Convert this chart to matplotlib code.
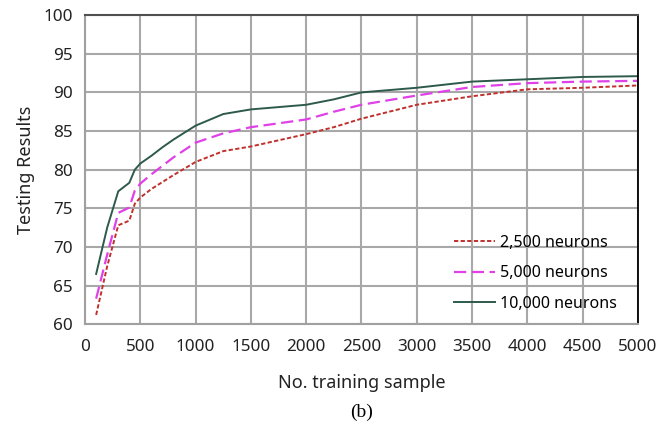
import numpy as np
import matplotlib
matplotlib.use("Agg")
import matplotlib.pyplot as plt

# training samples and testing results
samples = [100, 200, 300, 400, 450, 500, 600, 700, 800, 1000, 1250, 1500,
           2000, 2250, 2500, 3000, 3500, 4000, 4500, 5000]
res_2500 = [61.2, 67.5, 72.8, 73.4, 75.6, 76.4, 77.5, 78.4, 79.3, 81.0, 82.4, 83.0,
            84.6, 85.5, 86.6, 88.4, 89.5, 90.4, 90.6, 90.9]
res_5000 = [63.3, 69.0, 74.4, 75.1, 77.3, 78.2, 79.4, 80.5, 81.6, 83.5, 84.7, 85.5,
            86.5, 87.5, 88.4, 89.6, 90.7, 91.2, 91.4, 91.5]
res_10000 = [66.5, 72.5, 77.2, 78.3, 80.0, 80.8, 81.8, 82.9, 83.9, 85.7, 87.2, 87.8,
             88.4, 89.1, 90.0, 90.6, 91.4, 91.7, 92.0, 92.1]
labels = ["2,500 neurons", "5,000 neurons", "10,000 neurons"]
xticks = list(range(0, 5001, 500))
yticks = list(range(60, 101, 5))

plt.rcParams['font.family'] = ['Noto Sans', 'DejaVu Sans']

fig = plt.figure(figsize=(6.7, 4.21), dpi=100)
ax = fig.add_axes([0.127, 0.230, 0.825, 0.734])

ax.plot(samples, res_2500, color='#C0302C', linestyle=(0, (2.2, 1.2)), lw=1.4, label=labels[0])
ax.plot(samples, res_5000, color='#E040E8', linestyle=(0, (5.5, 2.5)), lw=1.6, label=labels[1])
ax.plot(samples, res_10000, color='#2D5A4A', linestyle='-', lw=1.4, label=labels[2])

ax.set_xlim(0, 5000)
ax.set_ylim(60, 100)
ax.set_xticks(xticks)
ax.set_yticks(yticks)
ax.grid(True, color='#A8A8A8', lw=1.5)
ax.set_axisbelow(True)
ax.tick_params(length=0, labelsize=12.3, colors='#222222')
ax.tick_params(axis='x', pad=11)
ax.tick_params(axis='y', pad=9)

for side in ['left', 'bottom']:
    ax.spines[side].set_color('#A0A0A0')
    ax.spines[side].set_linewidth(1.5)
ax.spines['top'].set_color('#505050')
ax.spines['top'].set_linewidth(1.5)
ax.spines['right'].set_color('#000000')
ax.spines['right'].set_linewidth(1.3)

ax.set_xlabel("No. training sample", fontsize=13, color='#222222', labelpad=13)
ax.set_ylabel("Testing Results", fontsize=13, color='#222222', labelpad=6)

leg = ax.legend(loc='lower left', frameon=False, fontsize=11.5, handlelength=2.6,
                handletextpad=0.3, labelspacing=0.9, borderaxespad=0,
                bbox_to_anchor=(0.655, 0.02))

fig.text(0.54, 0.02, "(b)", ha='center', va='center', fontsize=14,
         family=['Liberation Serif', 'DejaVu Serif'])

plt.savefig("out.png", dpi=100)
plt.close(fig)
